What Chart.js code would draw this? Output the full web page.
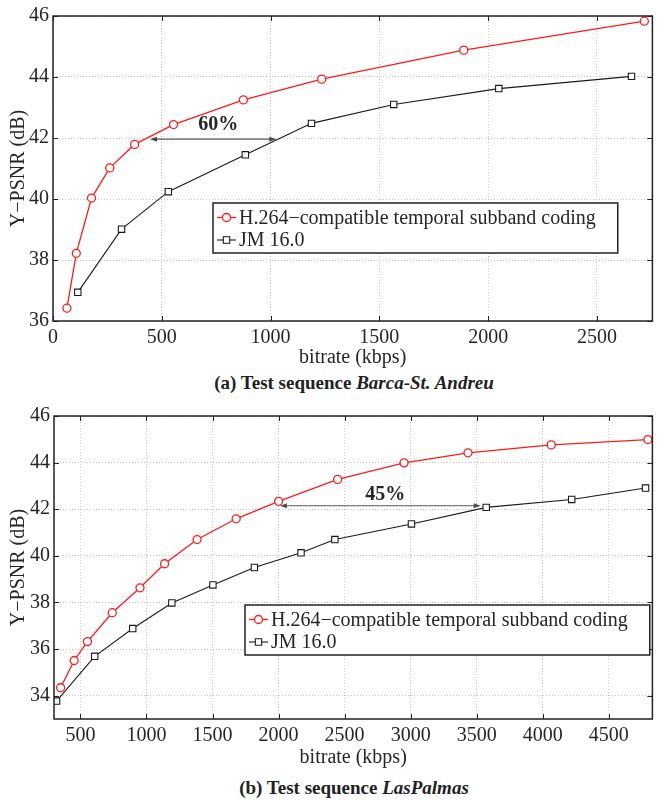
<!DOCTYPE html>
<html>
<head>
<meta charset="utf-8">
<script src="https://cdn.jsdelivr.net/npm/chart.js@4.4.1/dist/chart.umd.min.js"></script>
<style>
  body { margin: 0; background: #fff; }
  .wrap { position: relative; width: 658px; height: 800px; }
  .box { position: absolute; left: 0; width: 658px; }
  .cap { position: absolute; left: 53px; width: 602px; text-align: center; line-height: 22px;
         font: bold 19px "Liberation Serif", "Times New Roman", serif; color: #222; }
</style>
</head>
<body>
<div class="wrap">
  <div class="box" style="top:0;height:372px"><canvas id="chartA"></canvas></div>
  <div class="cap" style="top:372px">(a) Test sequence <i>Barca-St. Andreu</i></div>
  <div class="box" style="top:400px;height:375px"><canvas id="chartB"></canvas></div>
  <div class="cap" style="top:777px">(b) Test sequence <i>LasPalmas</i></div>
</div>
<script>
// series names
const seriesNames = ['H.264\u2212compatible temporal subband coding', 'JM 16.0'];

// (a) Barca-St. Andreu
const rateA_tsb = [64, 107, 177, 261, 375, 554, 875, 1235, 1888, 2718];
const psnrA_tsb = [36.42, 38.22, 40.03, 41.02, 41.79, 42.44, 43.25, 43.93, 44.88, 45.83];
const rateA_jm = [114, 315, 530, 884, 1188, 1566, 2049, 2659];
const psnrA_jm = [36.94, 39.01, 40.24, 41.45, 42.48, 43.10, 43.62, 44.02];
const xTicksA = [0, 500, 1000, 1500, 2000, 2500];
const yTicksA = [36, 38, 40, 42, 44, 46];
const gainA = { label: '60%', from: 446, to: 1026, y: 41.96, textX: 760, textY: 42.43 };

// (b) LasPalmas
const rateB_tsb = [350, 453, 553, 741, 951, 1137, 1383, 1679, 2000, 2447, 2950, 3434, 4064, 4796];
const psnrB_tsb = [34.34, 35.51, 36.32, 37.56, 38.63, 39.66, 40.70, 41.59, 42.34, 43.28, 43.99, 44.42, 44.76, 44.99];
const rateB_jm = [319, 608, 896, 1192, 1503, 1817, 2170, 2426, 3006, 3572, 4219, 4778];
const psnrB_jm = [33.77, 35.69, 36.88, 37.98, 38.75, 39.50, 40.13, 40.70, 41.37, 42.08, 42.42, 42.91];
const xTicksB = [500, 1000, 1500, 2000, 2500, 3000, 3500, 4000, 4500];
const yTicksB = [34, 36, 38, 40, 42, 44, 46];
const gainB = { label: '45%', from: 2010, to: 3530, y: 42.15, textX: 2807, textY: 42.6 };

const FONT = 'Liberation Serif';
const INK = '#262626';
const FS = 20;

function toPoints(xs, ys) {
    return xs.map((x, i) => ({ x: x, y: ys[i] }));
}

// box, inward ticks, legend and the gain arrow
const decorations = {
    id: 'decorations',
    afterDatasetsDraw(chart, args, opts) {
        const { ctx, chartArea: a, scales: { x, y } } = chart;
        ctx.save();

        // matlab style inward tick marks
        ctx.strokeStyle = '#222';
        ctx.lineWidth = 1;
        ctx.beginPath();
        x.ticks.forEach(t => {
            const px = Math.round(x.getPixelForValue(t.value)) + 0.5;
            ctx.moveTo(px, a.bottom); ctx.lineTo(px, a.bottom - 5);
            ctx.moveTo(px, a.top); ctx.lineTo(px, a.top + 5);
        });
        y.ticks.forEach(t => {
            const py = Math.round(y.getPixelForValue(t.value)) + 0.5;
            ctx.moveTo(a.left, py); ctx.lineTo(a.left + 5, py);
            ctx.moveTo(a.right, py); ctx.lineTo(a.right - 5, py);
        });
        ctx.stroke();

        // axes box
        ctx.lineWidth = 1.5;
        ctx.strokeStyle = '#222';
        ctx.strokeRect(a.left, a.top, a.width, a.height);

        // gain arrow
        const g = opts.gain;
        const x1 = x.getPixelForValue(g.from), x2 = x.getPixelForValue(g.to);
        const ya = y.getPixelForValue(g.y);
        ctx.strokeStyle = '#5a5a5a';
        ctx.fillStyle = '#4a4a4a';
        ctx.lineWidth = 1.2;
        ctx.beginPath();
        ctx.moveTo(x1 + 2, ya); ctx.lineTo(x2 - 2, ya);
        ctx.stroke();
        [[x1, 1], [x2, -1]].forEach(([px, d]) => {
            ctx.beginPath();
            ctx.moveTo(px, ya);
            ctx.lineTo(px + d * 7, ya - 2.5);
            ctx.lineTo(px + d * 7, ya + 2.5);
            ctx.closePath();
            ctx.fill();
        });
        ctx.fillStyle = '#262626';
        ctx.font = 'bold ' + FS + 'px "' + FONT + '"';
        ctx.textAlign = 'center';
        ctx.textBaseline = 'middle';
        ctx.fillText(g.label, x.getPixelForValue(g.textX), y.getPixelForValue(g.textY));

        // legend
        ctx.font = FS + 'px "' + FONT + '"';
        ctx.textAlign = 'left';
        const textW = Math.max(...chart.data.datasets.map(ds => ctx.measureText(ds.label).width));
        const lx = a.left + opts.legendX, ly = a.top + opts.legendY;
        const w = 26 + textW + 22, h = 50;
        ctx.fillStyle = '#fff';
        ctx.fillRect(lx, ly, w, h);
        ctx.lineWidth = 1.5;
        ctx.strokeStyle = '#222';
        ctx.strokeRect(lx, ly, w, h);
        chart.data.datasets.forEach((ds, i) => {
            const ry = ly + 14.5 + i * 22.5;
            ctx.strokeStyle = ds.borderColor;
            ctx.lineWidth = ds.borderWidth;
            ctx.beginPath();
            ctx.moveTo(lx + 4, ry); ctx.lineTo(lx + 23, ry);
            ctx.stroke();
            ctx.fillStyle = '#fff';
            ctx.lineWidth = ds.pointBorderWidth;
            ctx.beginPath();
            if (ds.pointStyle === 'circle') {
                ctx.arc(lx + 13.5, ry, ds.pointRadius, 0, Math.PI * 2);
            } else {
                const s = ds.pointRadius * Math.SQRT1_2;
                ctx.rect(lx + 13.5 - s, ry - s, 2 * s, 2 * s);
            }
            ctx.fill();
            ctx.stroke();
            ctx.fillStyle = INK;
            ctx.textBaseline = 'middle';
            ctx.fillText(ds.label, lx + 26, ry + 1);
        });
        ctx.restore();
    }
};

function makeChart(id, p) {
    const ctx = document.getElementById(id).getContext('2d');
    return new Chart(ctx, {
        type: 'scatter',
        data: {
            datasets: [{
                label: seriesNames[0],
                data: toPoints(p.rateTsb, p.psnrTsb),
                showLine: true,
                borderColor: '#ff1a1a',
                borderWidth: 1.3,
                pointStyle: 'circle',
                pointRadius: 4,
                pointBorderWidth: 1.3,
                pointBackgroundColor: '#fff',
                pointBorderColor: '#ff1a1a',
                tension: 0
            }, {
                label: seriesNames[1],
                data: toPoints(p.rateJm, p.psnrJm),
                showLine: true,
                borderColor: '#1a1a1a',
                borderWidth: 1.1,
                pointStyle: 'rect',
                pointRadius: 4.5,
                pointBorderWidth: 1.1,
                pointBackgroundColor: '#fff',
                pointBorderColor: '#1a1a1a',
                tension: 0
            }]
        },
        options: {
            responsive: true,
            maintainAspectRatio: false,
            animation: false,
            events: [],
            layout: { padding: { top: 16, right: p.padRight, left: 0, bottom: 0 } },
            plugins: {
                legend: { display: false },
                tooltip: { enabled: false },
                decorations: { gain: p.gain, legendX: p.legendX, legendY: p.legendY }
            },
            scales: {
                x: {
                    type: 'linear',
                    min: p.xMin,
                    max: p.xMax,
                    afterBuildTicks: s => { s.ticks = p.xTicks.map(v => ({ value: v })); },
                    afterFit: s => { s.height = p.xAxisH; },
                    grid: { color: '#c4c4c4', lineWidth: 1, drawTicks: false },
                    border: { display: false, dash: [1, 2] },
                    ticks: {
                        color: INK, padding: 5, maxRotation: 0, autoSkip: false,
                        font: { family: FONT, size: FS },
                        callback: v => String(v)
                    },
                    title: {
                        display: true, text: 'bitrate (kbps)', color: INK,
                        font: { family: FONT, size: FS },
                        padding: { top: 0, bottom: p.xTitlePad }
                    }
                },
                y: {
                    type: 'linear',
                    min: p.yMin,
                    max: p.yMax,
                    afterBuildTicks: s => { s.ticks = p.yTicks.map(v => ({ value: v })); },
                    afterFit: s => { s.width = p.yAxisW; },
                    grid: { color: '#c4c4c4', lineWidth: 1, drawTicks: false },
                    border: { display: false, dash: [1, 2] },
                    ticks: {
                        color: INK, padding: 4,
                        font: { family: FONT, size: FS },
                        callback: v => String(v)
                    },
                    title: {
                        display: true, text: 'Y\u2212PSNR (dB)', color: INK,
                        font: { family: FONT, size: FS },
                        padding: { top: 7, bottom: 0 }
                    }
                }
            }
        },
        plugins: [decorations]
    });
}

makeChart('chartA', {
    rateTsb: rateA_tsb, psnrTsb: psnrA_tsb, rateJm: rateA_jm, psnrJm: psnrA_jm,
    xTicks: xTicksA, yTicks: yTicksA, xMin: 0, xMax: 2755, yMin: 36, yMax: 46,
    yAxisW: 53, xAxisH: 51, padRight: 3, xTitlePad: 2,
    gain: gainA, legendX: 160, legendY: 187
});

makeChart('chartB', {
    rateTsb: rateB_tsb, psnrTsb: psnrB_tsb, rateJm: rateB_jm, psnrJm: psnrB_jm,
    xTicks: xTicksB, yTicks: yTicksB, xMin: 300, xMax: 4830, yMin: 33, yMax: 46,
    yAxisW: 54, xAxisH: 56, padRight: 2, xTitlePad: 5,
    gain: gainB, legendX: 191, legendY: 189
});
</script>
</body>
</html>
